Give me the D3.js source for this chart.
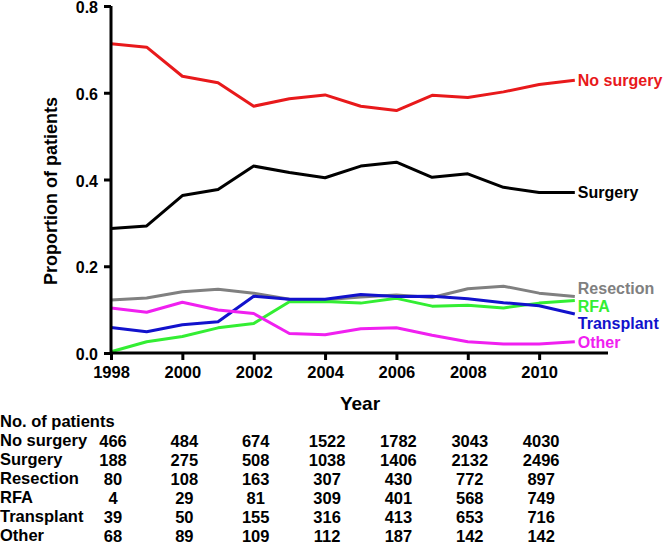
<!DOCTYPE html>
<html><head><meta charset="utf-8">
<script src="https://cdn.jsdelivr.net/npm/d3@7"></script>
<style>body{margin:0;background:#fff;} text{font-family:"Liberation Sans",Arial,sans-serif;font-weight:bold;}</style>
</head><body><svg id="c" width="665" height="546"></svg>
<script>
const years = [1998,1999,2000,2001,2002,2003,2004,2005,2006,2007,2008,2009,2010,2011];
const noSurgery = [0.713,0.705,0.638,0.623,0.569,0.586,0.595,0.569,0.559,0.594,0.589,0.602,0.619,0.629];
const surgery   = [0.287,0.293,0.363,0.377,0.431,0.416,0.404,0.431,0.440,0.405,0.413,0.382,0.370,0.370];
const resection = [0.122,0.127,0.141,0.147,0.138,0.124,0.123,0.129,0.134,0.128,0.148,0.154,0.138,0.130];
const rfa       = [0.003,0.026,0.038,0.058,0.068,0.118,0.119,0.115,0.126,0.108,0.110,0.104,0.115,0.121];
const transplant= [0.059,0.049,0.065,0.072,0.131,0.124,0.124,0.135,0.130,0.131,0.125,0.116,0.109,0.090];
const other     = [0.104,0.094,0.117,0.099,0.091,0.045,0.042,0.056,0.058,0.041,0.026,0.021,0.021,0.026];
const seriesNames = ["No surgery","Surgery","Resection","RFA","Transplant","Other"];
const seriesColors = ["#e8191b","#000000","#808080","#33ee33","#1212cc","#f020f0"];
const xTicks = [1998,2000,2002,2004,2006,2008,2010];
const yTicks = [0,0.2,0.4,0.6,0.8];
const tableYears = [1998,2000,2002,2004,2006,2008,2010];
const tableRows = [
  [466,484,674,1522,1782,3043,4030],
  [188,275,508,1038,1406,2132,2496],
  [80,108,163,307,430,772,897],
  [4,29,81,309,401,568,749],
  [39,50,155,316,413,653,716],
  [68,89,109,112,187,142,142]
];
const allSeries = [noSurgery,surgery,resection,rfa,transplant,other];
const labelY = [80,192,288,306,323,342];

const svg = d3.select("#c");
const x = d3.scaleLinear().domain([1998,2011.93]).range([111,608]);
const y = d3.scaleLinear().domain([0,0.8]).range([353,6]);

// lines
const line = d3.line().x((d,i)=>x(years[i])).y(d=>y(d));
allSeries.forEach((s,k)=>{
  svg.append("path").attr("d",line(s)).attr("fill","none")
    .attr("stroke",seriesColors[k]).attr("stroke-width",3).attr("stroke-linejoin","round");
  svg.append("text").attr("x",x(2011)+3).attr("y",labelY[k]).attr("dy","0.35em")
    .attr("fill",seriesColors[k]).style("font-size","16px").text(seriesNames[k]);
});

// axes
const xAxis = svg.append("g").attr("transform","translate(0,353)")
  .call(d3.axisBottom(x).tickValues(xTicks).tickFormat(d3.format("d")).tickSizeOuter(0).tickSizeInner(7).tickPadding(6));
const yAxis = svg.append("g").attr("transform","translate(111,0)")
  .call(d3.axisLeft(y).tickValues(yTicks).tickFormat(d3.format(".1f")).tickSizeOuter(0).tickSizeInner(7).tickPadding(6));
[xAxis,yAxis].forEach(g=>{
  g.select(".domain").attr("stroke","#000").attr("stroke-width",3);
  g.selectAll(".tick line").attr("stroke","#000").attr("stroke-width",3);
  g.selectAll(".tick text").attr("fill","#000").style("font-family","Liberation Sans, Arial, sans-serif").style("font-weight","bold");
});
xAxis.selectAll(".tick text").style("font-size","16.5px");
yAxis.selectAll(".tick text").style("font-size","16px").attr("dy","0.42em");
xAxis.select(".domain").attr("d","M111,0H608");
yAxis.select(".domain").attr("d","M0,6V354.5");

svg.append("text").attr("x",360).attr("y",410).attr("text-anchor","middle").style("font-size","19px").text("Year");
svg.append("text").attr("transform","translate(57,191) rotate(-90)").attr("text-anchor","middle").style("font-size","18px").text("Proportion of patients");

// table
svg.append("text").attr("x",0).attr("y",427).style("font-size","16.5px").text("No. of patients");
tableRows.forEach((row,r)=>{
  const by = 446 + r*19;
  svg.append("text").attr("x",0).attr("y",by).style("font-size","16.5px").text(seriesNames[r]);
  row.forEach((v,c)=>{
    svg.append("text").attr("x",x(tableYears[c])+2).attr("y",by+1).attr("text-anchor","middle").style("font-size","16.5px").text(v);
  });
});
</script></body></html>
